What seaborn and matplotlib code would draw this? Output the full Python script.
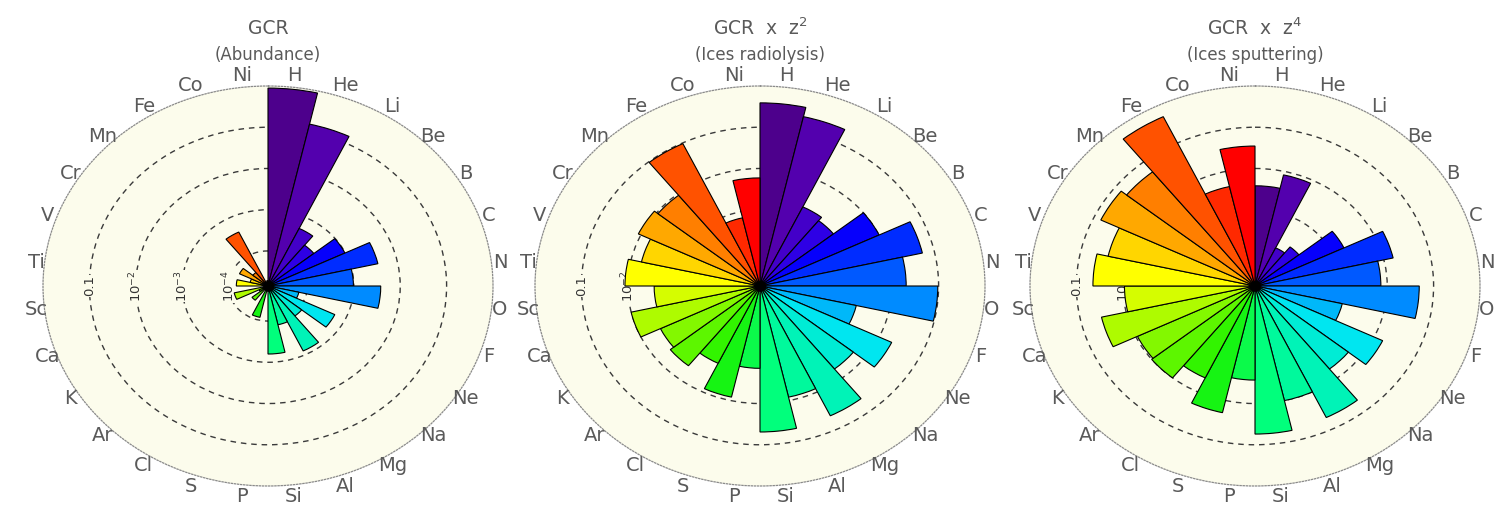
import numpy as np
import matplotlib
matplotlib.use("Agg")
import matplotlib.pyplot as plt
from matplotlib.colors import LinearSegmentedColormap
from matplotlib.ticker import NullLocator, FixedLocator
import seaborn as sns

# Galactic cosmic ray elements, clockwise from the top
elements = ["H", "He", "Li", "Be", "B", "C", "N", "O", "F", "Ne", "Na", "Mg", "Al", "Si",
            "P", "S", "Cl", "Ar", "K", "Ca", "Sc", "Ti", "V", "Cr", "Mn", "Fe", "Co", "Ni"]

# Relative number abundance (normalised)
abundance = [0.89, 0.15, 5.0e-4, 2.6e-4, 9.8e-4, 3.8e-3, 9.8e-4, 3.8e-3, 6.8e-5, 5.6e-4,
             1.2e-4, 7.9e-4, 1.3e-4, 6.3e-4, 1.6e-5, 8.5e-5, 1.5e-5, 3.9e-5, 2.3e-5, 7.9e-5,
             1.5e-5, 6.8e-5, 3.5e-5, 6.8e-5, 3.7e-5, 4.0e-4, 1.6e-5, 1.9e-5]

# Abundance weighted by z^2 (normalised)
radiolysis = [0.39, 0.23, 1.9e-3, 1.5e-3, 1.0e-2, 5.5e-2, 2.0e-2, 9.6e-2, 1.9e-3, 2.0e-2,
              5.3e-3, 4.4e-2, 8.2e-3, 4.9e-2, 1.4e-3, 8.2e-3, 1.7e-3, 4.2e-3, 3.4e-3, 1.0e-2,
              2.7e-3, 1.15e-2, 5.9e-3, 1.15e-2, 9.2e-3, 9.6e-2, 7.0e-4, 5.9e-3]

# Abundance weighted by z^4 (normalised)
sputtering = [3.8e-3, 8.2e-3, 1.5e-4, 2.3e-4, 1.9e-3, 1.6e-2, 7.3e-3, 4.9e-2, 1.2e-3, 1.6e-2,
              5.3e-3, 4.9e-2, 1.0e-2, 5.5e-2, 2.7e-3, 2.0e-2, 4.2e-3, 1.0e-2, 9.2e-3, 3.5e-2,
              9.2e-3, 4.4e-2, 2.5e-2, 6.9e-2, 4.9e-2, 0.51, 4.2e-3, 3.5e-2]

titles = ["GCR", "GCR  x  z$^{2}$", "GCR  x  z$^{4}$"]
subtitles = ["(Abundance)", "(Ices radiolysis)", "(Ices sputtering)"]
ring_values = [1e-4, 1e-3, 1e-2, 1e-1]
ring_labels = ["10$^{-4}$", "10$^{-3}$", "10$^{-2}$", "0.1"]

R_MIN = 10 ** -4.85
R_MAX = 1.0

sns.set_theme(style="white")
plt.rcParams["font.family"] = ["DejaVu Sans"]

rainbow = LinearSegmentedColormap.from_list("ct_rainbow", [
    (0.00, (0.30, 0.00, 0.55)),
    (0.04, (0.33, 0.00, 0.70)),
    (0.11, (0.18, 0.00, 0.90)),
    (0.15, (0.00, 0.00, 1.00)),
    (0.26, (0.00, 0.55, 1.00)),
    (0.33, (0.00, 0.90, 0.95)),
    (0.48, (0.00, 1.00, 0.50)),
    (0.57, (0.10, 0.95, 0.00)),
    (0.78, (1.00, 1.00, 0.00)),
    (1.00, (1.00, 0.00, 0.00)),
])
palette = sns.color_palette([rainbow(x) for x in np.linspace(0, 1, len(elements))])

text_grey = "#5a5a5a"
cream = "#fcfcec"

fig = plt.figure(figsize=(14.99, 5.05), dpi=100)

centers_x = [268, 760, 1255]
rx, ry, cy = 225, 200, 286
W, H = 1499, 505

n = len(elements)
width = 2 * np.pi / n
theta = np.arange(n) * width + width / 2

for k, (vals, cx) in enumerate(zip([abundance, radiolysis, sputtering], centers_x)):
    rect = [(cx - rx) / W, (H - cy - ry) / H, 2 * rx / W, 2 * ry / H]
    ax = fig.add_axes(rect, projection="polar")
    ax.set_aspect("auto")
    ax.set_theta_zero_location("N")
    ax.set_theta_direction(-1)
    ax.set_rscale("log")
    ax.set_rlim(R_MIN, R_MAX)
    ax.set_facecolor(cream)

    vals = np.asarray(vals)
    ax.bar(theta, vals - R_MIN, width=width, bottom=R_MIN, color=palette,
           edgecolor="black", linewidth=0.8, zorder=3)
    ax.scatter([0], [R_MIN], s=45, color="black", zorder=5, clip_on=False)

    ax.yaxis.set_major_locator(FixedLocator(ring_values))
    ax.yaxis.set_minor_locator(NullLocator())
    ax.set_yticklabels([])
    ax.set_xticks([])
    ax.xaxis.grid(False)
    ax.yaxis.grid(True, linestyle=(0, (4, 3.5)), color="#3a3a3a", linewidth=1.0)
    ax.set_axisbelow(True)
    ax.spines["polar"].set_linestyle((0, (1, 1.5)))
    ax.spines["polar"].set_color("#8a8a8a")
    ax.spines["polar"].set_linewidth(0.9)

    for rv, lab in zip(ring_values, ring_labels):
        ax.text(3 * np.pi / 2, rv, lab, rotation=90, ha="center", va="center",
                fontsize=9.5, color="#333333", zorder=2.5,
                bbox=dict(facecolor=cream, edgecolor="none", pad=0.4))

    # element names sit just outside the outer ring, offset along the ellipse normal
    for th, el in zip(theta, elements):
        off = (8.5 * np.sin(th), 12.0 * np.cos(th))
        ax.annotate(el, xy=(th, R_MAX), xytext=off, textcoords="offset pixels",
                    ha="center", va="center", fontsize=14, color=text_grey,
                    annotation_clip=False)

    fig.text(cx / W, 1 - 28 / H, titles[k], ha="center", va="center",
             fontsize=13.5, color=text_grey)
    fig.text(cx / W, 1 - 55 / H, subtitles[k], ha="center", va="center",
             fontsize=12, color=text_grey)

fig.savefig("out.png", dpi=100, facecolor="white")
